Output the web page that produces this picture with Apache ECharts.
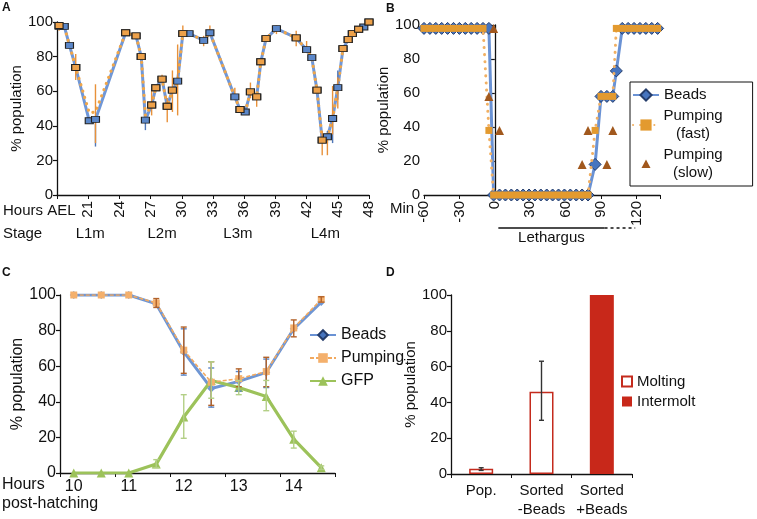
<!DOCTYPE html>
<html>
<head>
<meta charset="utf-8">
<script src="https://cdn.jsdelivr.net/npm/echarts@6.0.0/dist/echarts.min.js"></script>
<style>
  html, body { margin: 0; padding: 0; background: #fff; }
  #chart { width: 757px; height: 519px; }
</style>
</head>
<body>
<div id="chart"></div>
<script>
// ---- panel A : hours after egg laying ----
const hoursA = [18.2, 18.7, 19.2, 19.8, 21.1, 21.7, 24.6, 25.6, 26.1, 26.5, 27.1, 27.5, 28.1, 28.6,
  29.1, 29.6, 30.1, 30.7, 32.1, 32.7, 35.1, 35.6, 36.1, 36.6, 37.2, 37.6, 38.1, 39.1, 41.0,
  42.0, 42.5, 43.0, 43.5, 44.0, 44.5, 45.0, 45.5, 46.0, 46.4, 47.0, 47.5, 48.0];
const beadsA = [97.5, 97.5, 86.5, 73.7, 42.9, 43.7, 93.8, 92, 80, 43.3, 52, 62, 67, 51.3,
  60.6, 65.8, 93.3, 93.3, 89.4, 93.8, 56.7, 49.4, 48, 59.6, 56.7, 77, 90.4, 96.2, 90.8,
  84, 79.4, 60.6, 31.7, 33.7, 44.2, 62.1, 84.6, 89.8, 93.3, 95.8, 97.1, 100];
const pumpA = [98, 97.5, 86.5, 73.7, 47.5, 48, 93.8, 92, 80, 46, 52, 62, 67, 51.3,
  60.6, 65.8, 93.3, 93.3, 89.4, 93.8, 56.7, 49.4, 48, 59.6, 56.7, 77, 90.4, 96.2, 90.8,
  84, 79.4, 60.6, 31.7, 33.7, 44.2, 62.1, 84.6, 89.8, 93.3, 95.8, 97.1, 100];
// 1 = pumping marker visible on top of the beads marker
const pumpShownA = [1, 0, 0, 1, 0, 0, 1, 1, 1, 0, 1, 1, 1, 1,
  1, 0, 1, 0, 0, 0, 0, 1, 0, 1, 1, 1, 1, 0, 1,
  0, 0, 1, 1, 0, 0, 0, 1, 1, 1, 1, 0, 1];
const errPumpA = [[18.2, 95, 100], [19.8, 66.5, 81.5], [21.7, 30, 64], [27.1, 46, 61], [28.1, 66, 69.5],
  [28.6, 42, 56], [29.1, 48, 72], [29.6, 46, 87], [30.1, 93, 98], [32.1, 86, 92], [32.7, 92, 98],
  [35.1, 55, 62], [36.6, 56, 65], [37.2, 51, 58], [39.1, 93, 98], [41.0, 86, 95], [42.0, 82, 89],
  [43.5, 23, 37], [44.0, 23, 36], [44.5, 35, 63], [45.0, 50, 68]];
const errBeadsA = [[21.7, 28, 44], [26.5, 37.5, 44], [44.0, 30, 37], [44.5, 30, 45], [45.0, 55, 72]];
const stageA = ['L1m', 'L2m', 'L3m', 'L4m'];
const stageHoursA = [21.2, 28.1, 35.4, 43.8];

// ---- panel B : minutes around lethargus ----
const minB = [-60, -55, -50, -45, -40, -35, -30, -25, -20, -15, -10, -5,
  -1, 4, 9, 14, 19, 24, 29, 34, 39, 44, 49, 54, 59, 64, 69, 74, 79,
  85, 90, 95, 100, 103, 108, 113, 118, 123, 128, 133, 138];
const beadsB = [98, 98, 98, 98, 98, 98, 98, 98, 98, 98, 98, 98,
  0, 0, 0, 0, 0, 0, 0, 0, 0, 0, 0, 0, 0, 0, 0, 0, 0,
  18, 58, 58, 58, 73, 98, 98, 98, 98, 98, 98, 98];
const pumpFastB = [98, 98, 98, 98, 98, 98, 98, 98, 98, 98, 98, 38,
  0, 0, 0, 0, 0, 0, 0, 0, 0, 0, 0, 0, 0, 0, 0, 0, 0,
  38, 58, 58, 58, 98, 98, 98, 98, 98, 98, 98, 98];
const slowMinB = [-5, -1, 4, 74, 79, 95, 100];
const pumpSlowB = [58, 98, 38, 18, 38, 18, 38];
const lethargusB = [3, 93, 119]; // solid start, solid end, dashed end

// ---- panel C : hours post-hatching ----
const hoursC = ['10', '10.5', '11', '11.5', '12', '12.5', '13', '13.5', '14', '14.5'];
const beadsC = [100, 100, 100, 95, 68, 47.5, 51.5, 56.5, 81, 96];
const pumpC = [100, 100, 100, 95.5, 69, 51, 53, 57, 81.5, 97.5];
const gfpC = [0, 0, 0, 5, 31.5, 52, 48, 43, 19, 3];
const errBeadsC = [[4, 55, 81], [5, 37, 59], [6, 46, 57], [7, 48, 64]];
const errPumpC = [[3, 93, 98], [4, 56, 82], [5, 38, 62.5], [6, 48.5, 58.5], [7, 48.5, 65], [8, 76.5, 86], [9, 96, 99]];
const errGfpC = [[3, 3, 7.5], [4, 19.5, 44], [5, 42, 62.5], [6, 44, 52], [7, 35, 52], [8, 14, 23.5], [9, 2, 4]];

// ---- panel D ----
const groupsD = ['Pop.', 'Sorted\n-Beads', 'Sorted\n+Beads'];
const moltingD = [3, 46, null];
const intermoltD = [null, null, 100];
const errD = [[0, 2, 3.5], [1, 30, 63]];

const FONT = 'Liberation Sans, Arial, Helvetica, sans-serif';
const INK = '#111';

const chart = echarts.init(document.getElementById('chart'), null, { renderer: 'canvas' });

function yAxis(idx, fs, gap) {
  return {
    type: 'value', gridIndex: idx, min: 0, max: 100, interval: 20,
    name: '% population', nameLocation: 'middle', nameGap: gap,
    nameTextStyle: { fontSize: fs, color: INK },
    axisLine: { show: true, lineStyle: { color: INK, width: 1.3 } },
    axisTick: { show: true, length: 4, lineStyle: { color: INK, width: 1.2 } },
    axisLabel: { fontSize: fs, color: INK, margin: 4 },
    splitLine: { show: false }
  };
}

function errorBars(axis, rows, color, cap, z) {
  return {
    type: 'custom', xAxisIndex: axis, yAxisIndex: axis, z: z, silent: true,
    data: rows,
    encode: { x: 0, y: [1, 2] },
    renderItem: function (params, api) {
      const top = api.coord([api.value(0), api.value(2)]);
      const bot = api.coord([api.value(0), api.value(1)]);
      const style = { stroke: color, lineWidth: 1.4 };
      const kids = [{ type: 'line', shape: { x1: top[0], y1: top[1], x2: bot[0], y2: bot[1] }, style: style }];
      if (cap) {
        kids.push({ type: 'line', shape: { x1: top[0] - cap, y1: top[1], x2: top[0] + cap, y2: top[1] }, style: style });
        kids.push({ type: 'line', shape: { x1: bot[0] - cap, y1: bot[1], x2: bot[0] + cap, y2: bot[1] }, style: style });
      }
      return { type: 'group', children: kids };
    }
  };
}

const pairs = (xs, ys) => xs.map((x, i) => [x, ys[i]]);

const option = {
  animation: false,
  backgroundColor: '#fff',
  textStyle: { fontFamily: FONT, color: INK },
  grid: [
    { left: 57, top: 22, width: 312, height: 173 },
    { left: 424, top: 25, width: 236, height: 170 },
    { left: 60, top: 295, width: 275, height: 178 },
    { left: 451, top: 295, width: 181, height: 180 }
  ],
  xAxis: [
    {
      type: 'value', gridIndex: 0, min: 18, max: 48, interval: 3,
      axisLine: { lineStyle: { color: INK, width: 1.3 } },
      axisTick: { show: true, length: 4, lineStyle: { color: INK } },
      axisLabel: { rotate: 90, fontSize: 15, color: INK, margin: 6,
        formatter: v => (v === 18 ? '' : String(v)) },
      splitLine: { show: false }
    },
    {
      type: 'value', gridIndex: 1, min: -60, max: 140, interval: 30,
      axisLine: { lineStyle: { color: INK, width: 1.3 } },
      axisTick: { show: true, length: 4, lineStyle: { color: INK } },
      axisLabel: { rotate: 90, fontSize: 15, color: INK, margin: 6,
        formatter: v => (v > 125 ? '' : String(v)) },
      splitLine: { show: false }
    },
    {
      type: 'category', gridIndex: 2, data: hoursC, boundaryGap: true,
      axisLine: { lineStyle: { color: INK, width: 1.3 } },
      axisTick: { show: true, interval: 1, length: 4, lineStyle: { color: INK } },
      axisLabel: { interval: 1, fontSize: 16, color: INK, margin: 6 }
    },
    {
      type: 'category', gridIndex: 3, data: groupsD, boundaryGap: true,
      axisLine: { lineStyle: { color: INK, width: 1.3 } },
      axisTick: { show: true, interval: 0, length: 4, lineStyle: { color: INK } },
      axisLabel: { interval: 0, hideOverlap: false, fontSize: 15, color: INK, margin: 7, lineHeight: 19 }
    }
  ],
  yAxis: [yAxis(0, 15, 25), yAxis(1, 15, 24), yAxis(2, 16, 26), yAxis(3, 15, 21)],
  legend: [
    {
      id: 'legB', orient: 'vertical', left: 630, top: 82,
      data: ['Beads', 'Pumping\n(fast)',
        { name: 'Pumping\n(slow)', icon: 'path://M0 0M26 14M13 2.5L17.5 11L8.5 11Z' }],
      selectedMode: false,
      borderColor: INK, borderWidth: 1, padding: [4, 30, 4, 2],
      itemGap: 3, itemWidth: 26, itemHeight: 14,
      formatter: n => (n.indexOf('\n') < 0 ? n : n.split('\n').map(s => '{c|' + s + '}').join('\n')),
      textStyle: { fontSize: 15, color: INK, lineHeight: 18,
        rich: { c: { fontSize: 15, lineHeight: 18, width: 58, align: 'center', color: INK } } }
    },
    {
      id: 'legC', orient: 'vertical', left: 309, top: 327,
      data: ['Beads', 'Pumping', 'GFP'], selectedMode: false,
      itemGap: 7, itemWidth: 26, itemHeight: 12, padding: 0,
      textStyle: { fontSize: 16, color: INK }
    },
    {
      id: 'legD', orient: 'vertical', left: 621, top: 374,
      data: ['Molting', 'Intermolt'], selectedMode: false, icon: 'rect',
      itemGap: 5, itemWidth: 10, itemHeight: 10, padding: 0,
      textStyle: { fontSize: 15, color: INK }
    }
  ],
  series: [
    // A
    { type: 'line', xAxisIndex: 0, yAxisIndex: 0, data: pairs(hoursA, beadsA), showSymbol: false,
      lineStyle: { color: '#6f97d8', width: 3 }, z: 2 },
    { type: 'line', xAxisIndex: 0, yAxisIndex: 0, data: pairs(hoursA, pumpA), showSymbol: false,
      lineStyle: { color: '#f0a649', width: 3.2, type: [0.1, 6.5], cap: 'round' }, z: 3 },
    errorBars(0, errBeadsA, '#4f77b8', 0, 4),
    errorBars(0, errPumpA, '#e8913a', 0, 4),
    { type: 'scatter', xAxisIndex: 0, yAxisIndex: 0, data: pairs(hoursA, beadsA),
      symbol: 'rect', symbolSize: [8, 6],
      itemStyle: { color: '#5b87c9', borderColor: '#222', borderWidth: 1, opacity: 1 }, z: 5 },
    { type: 'scatter', xAxisIndex: 0, yAxisIndex: 0,
      data: pairs(hoursA, pumpA).filter((d, i) => pumpShownA[i]),
      symbol: 'rect', symbolSize: [8, 6],
      itemStyle: { color: '#eda14a', borderColor: '#222', borderWidth: 1, opacity: 1 }, z: 6 },

    // B
    { name: 'Beads', type: 'line', xAxisIndex: 1, yAxisIndex: 1, data: pairs(minB, beadsB),
      symbol: 'diamond', symbolSize: 12, showAllSymbol: true,
      lineStyle: { color: '#6a92d4', width: 3 },
      itemStyle: { color: '#4775bf', borderColor: '#253d6b', borderWidth: 1 }, z: 2 },
    { name: 'Pumping\n(fast)', type: 'line', xAxisIndex: 1, yAxisIndex: 1, data: pairs(minB, pumpFastB),
      symbol: 'rect', symbolSize: 7, showAllSymbol: true,
      lineStyle: { color: '#f1b063', width: 3, type: [0.1, 7], cap: 'round' },
      itemStyle: { color: '#e39a2f' }, z: 3 },
    { name: 'Pumping\n(slow)', type: 'scatter', xAxisIndex: 1, yAxisIndex: 1, data: pairs(slowMinB, pumpSlowB),
      symbol: 'triangle', symbolSize: 9,
      itemStyle: { color: '#a1581d', opacity: 1 }, z: 4 },

    // C
    { name: 'Beads', type: 'line', xAxisIndex: 2, yAxisIndex: 2, data: beadsC,
      symbol: 'diamond', symbolSize: 8,
      lineStyle: { color: '#6f96d4', width: 3 }, itemStyle: { color: '#6f96d4' }, z: 2 },
    { name: 'Pumping', type: 'line', xAxisIndex: 2, yAxisIndex: 2, data: pumpC,
      symbol: 'rect', symbolSize: 7,
      lineStyle: { color: '#f2a95f', width: 1.6, type: [4, 2] }, itemStyle: { color: '#f4b06c' }, z: 3 },
    { name: 'GFP', type: 'line', xAxisIndex: 2, yAxisIndex: 2, data: gfpC,
      symbol: 'triangle', symbolSize: 9,
      lineStyle: { color: '#9cc25a', width: 3.2 }, itemStyle: { color: '#9cc25a' }, z: 2 },
    errorBars(2, errBeadsC, '#5d86c6', 3, 5),
    errorBars(2, errPumpC, '#b2622a', 3, 5),
    errorBars(2, errGfpC, '#b3cf86', 3, 5),

    // D
    { name: 'Molting', type: 'bar', xAxisIndex: 3, yAxisIndex: 3, data: moltingD, barWidth: 24, barGap: '-100%',
      itemStyle: { color: '#fff', borderColor: '#c42b1d', borderWidth: 1.5 } },
    { name: 'Intermolt', type: 'bar', xAxisIndex: 3, yAxisIndex: 3, data: intermoltD, barWidth: 24, barGap: '-100%',
      itemStyle: { color: '#c8281a' } },
    errorBars(3, errD, '#333', 2.5, 5)
  ]
};

chart.setOption(option);

// text and annotations placed with the axes' own scales
const px = (axis, v) => chart.convertToPixel({ xAxisIndex: axis }, v);
const label = (t, x, y, font) => ({
  type: 'text', x: x, y: y,
  style: { text: t, font: (font || '15px') + ' ' + FONT, fill: INK, align: 'left', verticalAlign: 'middle' }
});

const graphics = [
  label('A', 2, 8, 'bold 12px'),
  label('B', 386, 9, 'bold 12px'),
  label('C', 2, 273, 'bold 12px'),
  label('D', 386, 273, 'bold 12px'),
  label('Hours AEL', 3, 211),
  label('Stage', 3, 234),
  label('Min', 390, 209),
  label('Hours', 2, 485, '16px'),
  label('post-hatching', 2, 504, '16px')
];
stageA.forEach((s, i) => {
  graphics.push({ type: 'text', x: px(0, stageHoursA[i]), y: 234,
    style: { text: s, font: '15px ' + FONT, fill: INK, align: 'center', verticalAlign: 'middle' } });
});
graphics.push({ type: 'line', shape: { x1: px(1, lethargusB[0]), y1: 228, x2: px(1, lethargusB[1]), y2: 228 },
  style: { stroke: INK, lineWidth: 1.3 } });
graphics.push({ type: 'line', shape: { x1: px(1, lethargusB[1]), y1: 228, x2: px(1, lethargusB[2]), y2: 228 },
  style: { stroke: INK, lineWidth: 1.3, lineDash: [3, 3] } });
graphics.push({ type: 'text', x: (px(1, lethargusB[0]) + px(1, lethargusB[1])) / 2, y: 238,
  style: { text: 'Lethargus', font: '15px ' + FONT, fill: INK, align: 'center', verticalAlign: 'middle' } });

chart.setOption({ graphic: graphics });
</script>
</body>
</html>
